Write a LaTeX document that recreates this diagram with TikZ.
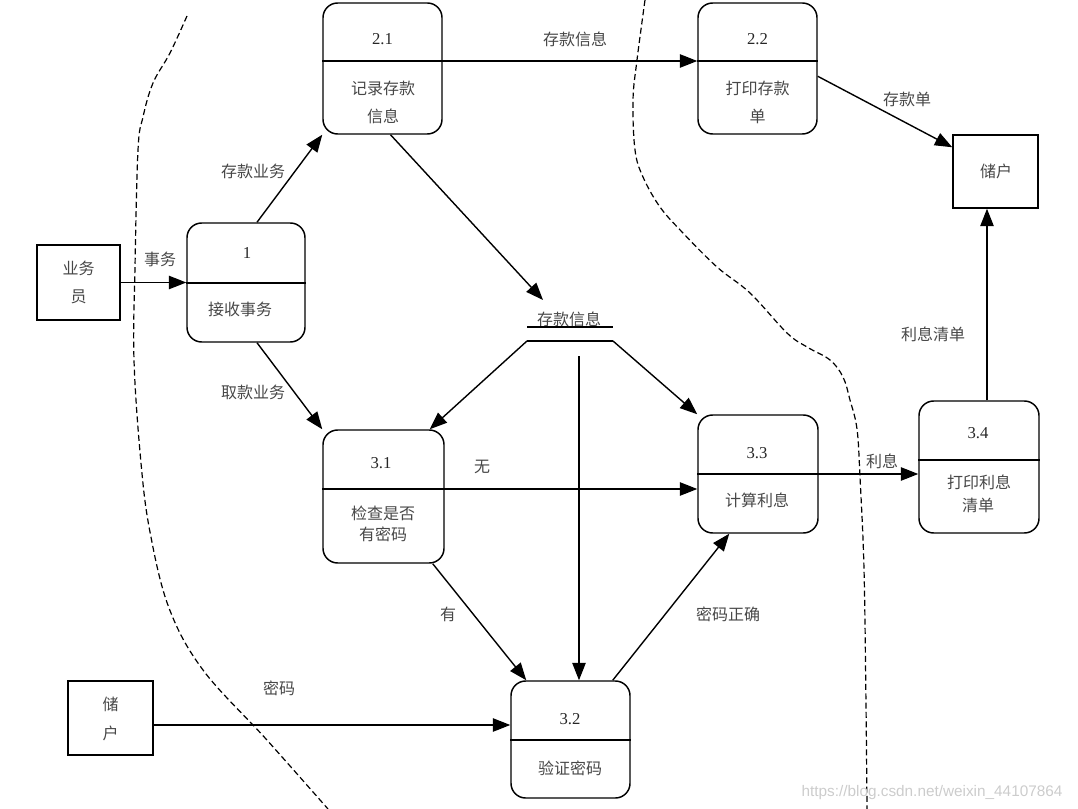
\documentclass[tikz,border=0pt]{standalone}
\usepackage{fontspec}
\setmainfont{Liberation Serif}
\newfontfamily\cjk{Noto Sans CJK SC}
\newfontfamily\wmfont{Liberation Sans}
\usetikzlibrary{arrows.meta,calc}
\begin{document}
\begin{tikzpicture}[x=0.75pt,y=-0.75pt,
  proc/.style={draw, line width=1.1pt, rounded corners=11pt, inner sep=0pt},
  ent/.style={draw, line width=1.1pt, inner sep=0pt},
  divl/.style={line width=1pt},
  flow/.style={line width=1.05pt, -{Triangle[length=13pt,width=10pt]}},
  lbl/.style={font=\cjk\fontsize{12}{14}\selectfont, text=black!72, inner sep=0pt},
  num/.style={font=\fontsize{12.5}{14}\selectfont, text=black!85, inner sep=0pt},
  bnd/.style={line width=0.9pt, dash pattern=on 4.5pt off 2.5pt},
  wm/.style={font=\wmfont\fontsize{11.5}{13}\selectfont, text=black!20, inner sep=0pt}]
\useasboundingbox (0,0) rectangle (1078,809);

% boundaries
\draw[bnd] plot[smooth, tension=0.6] coordinates {(187,16) (170,53) (153,83) (143,117) (138,150) (135,267) (134,360) (141,463) (150,532) (169,608) (203,670) (266,739) (328,809)};
\draw[bnd] plot[smooth, tension=0.6] coordinates {(645,0) (637,60) (633,100) (635,150) (643,177) (660,207) (683,233) (717,267) (750,293) (787,333) (807,347) (830,360) (843,377) (850,400) (857,429) (860,477) (864,569) (866,705) (867,809)};

% external entities
\node[ent, minimum width=83*0.75pt, minimum height=75*0.75pt] (ywy) at (78.5,282.5) {};
\node[ent, minimum width=85*0.75pt, minimum height=73*0.75pt] (cR) at (995.5,171.5) {};
\node[ent, minimum width=85*0.75pt, minimum height=74*0.75pt] (cL) at (110.5,718) {};

% processes
\node[proc, minimum width=118*0.75pt, minimum height=119*0.75pt] (p1) at (246,282.5) {};
\node[proc, minimum width=119*0.75pt, minimum height=131*0.75pt] (p21) at (382.5,68.5) {};
\node[proc, minimum width=119*0.75pt, minimum height=131*0.75pt] (p22) at (757.5,68.5) {};
\node[proc, minimum width=121*0.75pt, minimum height=133*0.75pt] (p31) at (383.5,496.5) {};
\node[proc, minimum width=120*0.75pt, minimum height=118*0.75pt] (p33) at (758,474) {};
\node[proc, minimum width=120*0.75pt, minimum height=132*0.75pt] (p34) at (979,467) {};
\node[proc, minimum width=119*0.75pt, minimum height=117*0.75pt] (p32) at (570.5,739.5) {};

% dividers
\draw[divl] (p1.west |- 0,283) -- (p1.east |- 0,283);
\draw[divl] (p21.west |- 0,61) -- (p21.east |- 0,61);
\draw[divl] (p22.west |- 0,61) -- (p22.east |- 0,61);
\draw[divl] (p31.west |- 0,489) -- (p31.east |- 0,489);
\draw[divl] (p33.west |- 0,474) -- (p33.east |- 0,474);
\draw[divl] (p34.west |- 0,460) -- (p34.east |- 0,460);
\draw[divl] (p32.west |- 0,740) -- (p32.east |- 0,740);

% data store
\node[lbl] (ds) at (569,319) {存款信息};
\coordinate (dsUL) at (527,327);
\coordinate (dsUR) at (613,327);
\coordinate (dsL) at (527,341);
\coordinate (dsR) at (613,341);
\coordinate (dsIn) at (543,300);
\coordinate (dsV) at (579,356);
\draw[line width=1pt] (dsUL) -- (dsUR);
\draw[line width=1pt] (dsL) -- (dsR);

% texts in boxes
\node[lbl] at (78.5,268) {业务};
\node[lbl] at (78.5,297) {员};
\node[lbl] at (996,171) {储户};
\node[lbl] at (110.5,704) {储};
\node[lbl] at (110.5,733) {户};
\node[num] at (247,253) {1};
\node[lbl] at (240,309) {接收事务};
\node[num] at (382.5,39) {2.1};
\node[lbl] at (383,88) {记录存款};
\node[lbl] at (383,116) {信息};
\node[num] at (757.5,39) {2.2};
\node[lbl] at (757.5,88) {打印存款};
\node[lbl] at (757.5,116) {单};
\node[num] at (381,463) {3.1};
\node[lbl] at (383,513) {检查是否};
\node[lbl] at (383,534) {有密码};
\node[num] at (757,453) {3.3};
\node[lbl] at (757,500) {计算利息};
\node[num] at (978,433) {3.4};
\node[lbl] at (979,482) {打印利息};
\node[lbl] at (978,505) {清单};
\node[num] at (570,719) {3.2};
\node[lbl] at (570,768) {验证密码};

% flows
\coordinate (a34) at ($(p34.north)+(8,0)$);
\draw[flow] (ywy.east) -- (ywy.east -| p1.west);
\draw[flow] ($(p1.north)+(11,0)$) -- (p21.south west);
\draw[flow] (p21.east |- 0,61) -- (p22.west |- 0,61);
\draw[flow] ($(p22.north east)+(0,74)$) -- ($(cR.north west)+(0,13)$);
\draw[flow] (a34) -- (a34 |- cR.south);
\draw[flow] ($(p21.south)+(8,0)$) -- (dsIn);
\draw[flow] (dsL) -- ($(p31.north east)+(-15,0)$);
\draw[flow] (dsR) -- (p33.north west);
\draw[flow] (dsV) -- (dsV |- p32.north);
\draw[flow] ($(p1.south)+(11,0)$) -- (p31.north west);
\draw[flow] (p31.east |- 0,489) -- (p33.west |- 0,489);
\draw[flow] (p33.east |- 0,474) -- (p34.west |- 0,474);
\draw[flow] ($(p31.south east)+(-12,0)$) -- ($(p32.north west)+(16,0)$);
\draw[flow] ($(p32.north east)+(-18,0)$) -- ($(p33.south west)+(32,0)$);
\draw[flow] ($(cL.east)+(0,7)$) -- (p32.west |- 0,725);

% flow labels
\node[lbl] at (160,259) {事务};
\node[lbl] at (253,171) {存款业务};
\node[lbl] at (575,39) {存款信息};
\node[lbl] at (907,99) {存款单};
\node[lbl] at (933,334) {利息清单};
\node[lbl] at (253,392) {取款业务};
\node[lbl] at (482,467) {无};
\node[lbl] at (882,461) {利息};
\node[lbl] at (448,614) {有};
\node[lbl] at (728,614) {密码正确};
\node[lbl] at (279,688) {密码};

% watermark
\node[wm] at (932,793) {https://blog.csdn.net/weixin\_44107864};
\end{tikzpicture}
\end{document}
